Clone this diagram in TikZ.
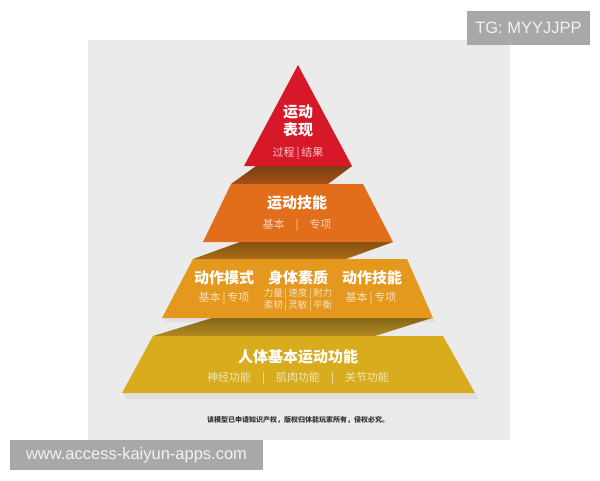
\documentclass[tikz,border=0pt]{standalone}
\usepackage{fontspec}
\setmainfont{Liberation Sans}
\newfontfamily\cjk{Noto Sans CJK SC}
\usetikzlibrary{positioning}

\definecolor{panelgray}{RGB}{235,235,235}
\definecolor{taggray}{RGB}{168,168,168}
\definecolor{topred}{RGB}{214,24,40}
\definecolor{skillorange}{RGB}{226,110,28}
\definecolor{motionamber}{RGB}{229,152,30}
\definecolor{basegold}{RGB}{216,172,28}
\definecolor{foldone}{RGB}{165,82,24}
\definecolor{foldtwo}{RGB}{172,108,24}
\definecolor{foldthree}{RGB}{178,138,34}

\begin{document}
\begin{tikzpicture}[x=1pt, y=-1pt,
title/.style={font=\cjk\bfseries\fontsize{15}{17}\selectfont, text=white, inner sep=0pt},
sub/.style={font=\cjk\fontsize{11}{13}\selectfont, inner sep=0pt},
tiny/.style={font=\cjk\fontsize{9.5}{11}\selectfont, inner sep=0pt},
note/.style={font=\cjk\bfseries\fontsize{7}{9}\selectfont, text=black!80, inner sep=0pt},
tag/.style={fill=taggray, text=white!95!black, font=\fontsize{16.5}{18}\selectfont, inner sep=0pt}]

\useasboundingbox (0,0) rectangle (600,480);
\fill[white] (0,0) rectangle (600,480);
\fill[panelgray] (88,40) rectangle (510,440);

% shadows
\fill[black, opacity=0.05] (124,393) -- (475,393) -- (478,399) -- (126,399) -- cycle;
\fill[black, opacity=0.05] (164,318) -- (433,318) -- (436,322) -- (166,322) -- cycle;

% folds
\shade[top color=foldone!75!black, bottom color=foldone] (256,166) -- (352,166) -- (328,184) -- (231,184) -- cycle;
\shade[top color=foldtwo!75!black, bottom color=foldtwo] (240,242) -- (393,242) -- (346,259) -- (193,259) -- cycle;
\shade[top color=foldthree!75!black, bottom color=foldthree] (212,318) -- (432,318) -- (375,336) -- (153,336) -- cycle;

% tiers
\fill[topred] (298,65) -- (352,166) -- (244,166) -- cycle;
\fill[skillorange] (231,184) -- (363,184) -- (393,242) -- (203,242) -- cycle;
\fill[motionamber] (193,259) -- (407,259) -- (433,318) -- (162,318) -- cycle;
\fill[basegold] (153,336) -- (443,336) -- (475,393) -- (122,393) -- cycle;

\node[title] (perf1) at (298,112) {运动};
\node[title] (perf2) at (298,130) {表现};
\node[sub, text=white!75!topred] (perfsub) at (298,153) {过程\,|\,结果};

\node[title] (skill) at (297,203) {运动技能};
\node[sub, text=white!70!skillorange] (skillsub) at (297,225) {基本{\quad}|{\quad}专项};

\node[title] (pattern) at (224,278) {动作模式};
\node[title] (fitness) at (298,278) {身体素质};
\node[title] (tech) at (372,278) {动作技能};
\node[sub, text=white!70!motionamber] (patternsub) at (224,298) {基本\,|\,专项};
\node[tiny, text=white!70!motionamber] (fitone) at (298,294) {力量\,|\,速度\,|\,耐力};
\node[tiny, text=white!70!motionamber] (fittwo) at (298,306) {柔韧\,|\,灵敏\,|\,平衡};
\node[sub, text=white!70!motionamber] (techsub) at (371,298) {基本\,|\,专项};

\node[title] (base) at (298,357) {人体基本运动功能};
\node[sub, text=white!70!basegold] (basesub) at (298,378) {神经功能{\quad}|{\quad}肌肉功能{\quad}|{\quad}关节功能};

\node[note] (footer) at (298,420) {该模型已申请知识产权，版权归体能玩家所有，侵权必究。};

\node[tag, minimum width=123, minimum height=34] (tg) at (528.5,28) {TG: MYYJJPP};
\node[tag, minimum width=253, minimum height=30] (site) at (136.5,455) {www.access-kaiyun-apps.com};

\end{tikzpicture}
\end{document}
